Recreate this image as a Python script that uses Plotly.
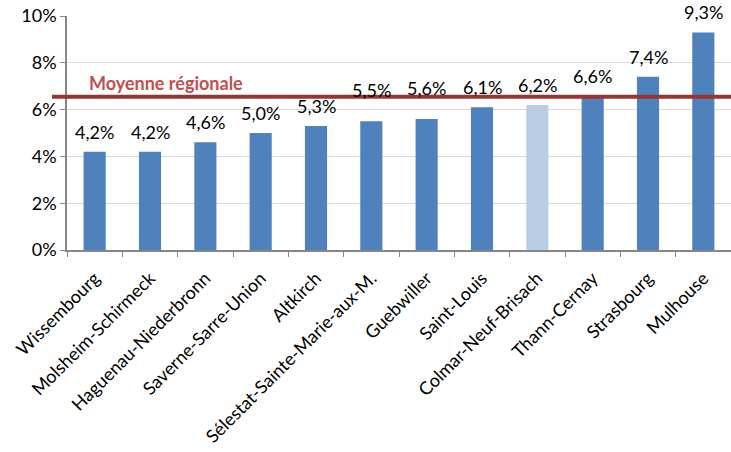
import plotly.graph_objects as go

categories = ["Wissembourg", "Molsheim-Schirmeck", "Haguenau-Niederbronn", "Saverne-Sarre-Union",
              "Altkirch", "Sélestat-Sainte-Marie-aux-M.", "Guebwiller", "Saint-Louis",
              "Colmar-Neuf-Brisach", "Thann-Cernay", "Strasbourg", "Mulhouse"]
values = [4.2, 4.2, 4.6, 5.0, 5.3, 5.5, 5.6, 6.1, 6.2, 6.6, 7.4, 9.3]
labels = ["4,2%", "4,2%", "4,6%", "5,0%", "5,3%", "5,5%", "5,6%", "6,1%", "6,2%", "6,6%", "7,4%", "9,3%"]
highlight = "Colmar-Neuf-Brisach"
regional_mean = 6.55
mean_label = "Moyenne régionale"
y_ticks = [0, 2, 4, 6, 8, 10]
y_tick_labels = ["0%", "2%", "4%", "6%", "8%", "10%"]

FONT = "Lato"
colors = ["#b9cde5" if c == highlight else "#4f81bd" for c in categories]
label_shift = [22 if v in (5.5, 5.6) else 11 for v in values]

fig = go.Figure()
fig.add_trace(go.Bar(x=categories, y=values, marker=dict(color=colors, line=dict(width=0)),
                     hoverinfo="skip", showlegend=False))

for c, v, t, s in zip(categories, values, labels, label_shift):
    fig.add_annotation(x=c, y=v, text=t, showarrow=False, yanchor="middle", yshift=s + 9,
                       font=dict(family=FONT, size=18, color="#000000"))

fig.add_shape(type="line", xref="paper", yref="y", x0=-0.0226, x1=1, y0=regional_mean, y1=regional_mean,
              line=dict(color="#953735", width=4), layer="above")
fig.add_annotation(xref="paper", yref="y", x=0.149, xanchor="center", y=regional_mean, yshift=14,
                   text="<b>" + mean_label + "</b>",
                   showarrow=False, font=dict(family=FONT, size=18, color="#c0504d"))

fig.update_layout(
    width=731, height=452,
    margin=dict(l=67, r=0, t=16, b=202, autoexpand=False),
    paper_bgcolor="white", plot_bgcolor="white",
    bargap=0.6,
    font=dict(family=FONT, size=16, color="#000000"),
)
fig.update_xaxes(type="category", tickangle=-45, tickson="boundaries", ticks="outside", ticklen=5,
                 tickcolor="#868686", showline=True, linecolor="#868686", linewidth=1.5,
                 tickfont=dict(family=FONT, size=18, color="#000000"), showgrid=False,
                 automargin=False, ticklabelstandoff=9)
fig.update_yaxes(range=[0, 10], tickvals=y_ticks, ticktext=y_tick_labels, ticks="outside", ticklen=5,
                 tickcolor="#868686", showline=True, linecolor="#868686", linewidth=1.5,
                 showgrid=True, gridcolor="#d9d9d9", gridwidth=1, zeroline=False, automargin=False,
                 tickfont=dict(family=FONT, size=18, color="#000000"))

fig.write_html("out.html", config={"displayModeBar": False})
with open("out.html", encoding="utf-8") as f:
    html = f.read()
html = html.replace("<body>", '<body style="margin:0;padding:0;overflow:hidden">', 1)
with open("out.html", "w", encoding="utf-8") as f:
    f.write(html)
